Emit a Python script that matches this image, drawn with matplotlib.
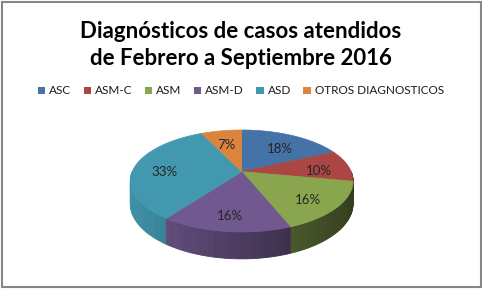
import numpy as np
import matplotlib
matplotlib.use("Agg")
import matplotlib.pyplot as plt
from matplotlib.patches import Polygon, Patch, Rectangle
from matplotlib.colors import to_rgb

plt.rcParams['font.family'] = ['Lato', 'DejaVu Sans']

# data
categories = ['ASC', 'ASM-C', 'ASM', 'ASM-D', 'ASD', 'OTROS DIAGNOSTICOS']
shares = [18, 10, 16, 16, 33, 7]
colors = ['#4572A7', '#AA4643', '#89A54E', '#71588F', '#4198AF', '#DB843D']
title = 'Diagnósticos de casos atendidos\nde Febrero a Septiembre 2016'

# fake 3D pie: unit circle seen in perspective
cx, cy = 241.7, 171.7
a, b, k = 109.5, 49.3, 0.182
depth = 22


def proj(X, Y, drop=0.0):
    w = 1 + k * Y
    return cx + a * X / w, cy - b * Y / w + drop / w


def shade(c, x):
    f = np.clip(0.93 - (x - 140) * 0.0026, 0.35, 1.0)
    return tuple(np.array(to_rgb(c)) * f)


fig = plt.figure(figsize=(4.82, 2.89), dpi=100)
ax = fig.add_axes([0, 0, 1, 1])
ax.set_xlim(0, 482)
ax.set_ylim(289, 0)
ax.axis('off')

vals = np.array(shares, dtype=float)
cum = np.concatenate([[0], np.cumsum(vals) / vals.sum()])
starts = 90 - cum[1:] * 360
ends = 90 - cum[:-1] * 360

# side walls (front half only), back to front
quads = []
for s, e, c in zip(starts, ends, colors):
    lo, hi = max(s, -180), min(e, 0)
    if hi <= lo:
        continue
    n = max(2, int((hi - lo) / 1.5) + 1)
    t = np.radians(np.linspace(lo, hi, n))
    for t0, t1 in zip(t[:-1], t[1:]):
        X = np.cos([t0, t1]); Y = np.sin([t0, t1])
        xt, yt = proj(X, Y)
        xb, yb = proj(X, Y, depth)
        pts = [(xt[0], yt[0]), (xt[1], yt[1]), (xb[1], yb[1]), (xb[0], yb[0])]
        col = shade(c, xt.mean())
        quads.append((np.sin((t0 + t1) / 2), pts, col))
quads.sort(key=lambda q: -q[0])
for _, pts, col in quads:
    ax.add_patch(Polygon(pts, closed=True, facecolor=col, edgecolor=col, lw=0.6))

# top faces
for s, e, c in zip(starts, ends, colors):
    t = np.radians(np.linspace(s, e, 80))
    xs, ys = proj(np.cos(t), np.sin(t))
    pts = [(cx, cy)] + list(zip(xs, ys))
    ax.add_patch(Polygon(pts, closed=True, facecolor=c, edgecolor=c, lw=0.5))

# percentage labels
for s, e, v in zip(starts, ends, vals):
    m = np.radians((s + e) / 2)
    lx, ly = proj(0.72 * np.cos(m), 0.72 * np.sin(m))
    ax.text(lx, ly + 4, f'{v / vals.sum():.0%}', ha='center', va='center',
            fontsize=9.5, color='#262626')

# title
ax.text(241, 45, title, ha='center', va='center', fontsize=16,
        fontweight='bold', color='black', linespacing=1.3)

# legend
handles = [Patch(facecolor=c, edgecolor='none') for c in colors]
fig.legend(handles, categories, loc='center', bbox_to_anchor=(0.5, 1 - 91 / 289),
           ncol=6, frameon=False, handlelength=0.6, handleheight=0.6,
           handletextpad=0.35, columnspacing=1.05, fontsize=8.5,
           labelcolor='#1a1a1a')

# chart border
ax.add_patch(Rectangle((1.5, 1.5), 479, 285.5, fill=False, edgecolor='#868686', lw=1.5))

fig.savefig('out.png', dpi=100)
